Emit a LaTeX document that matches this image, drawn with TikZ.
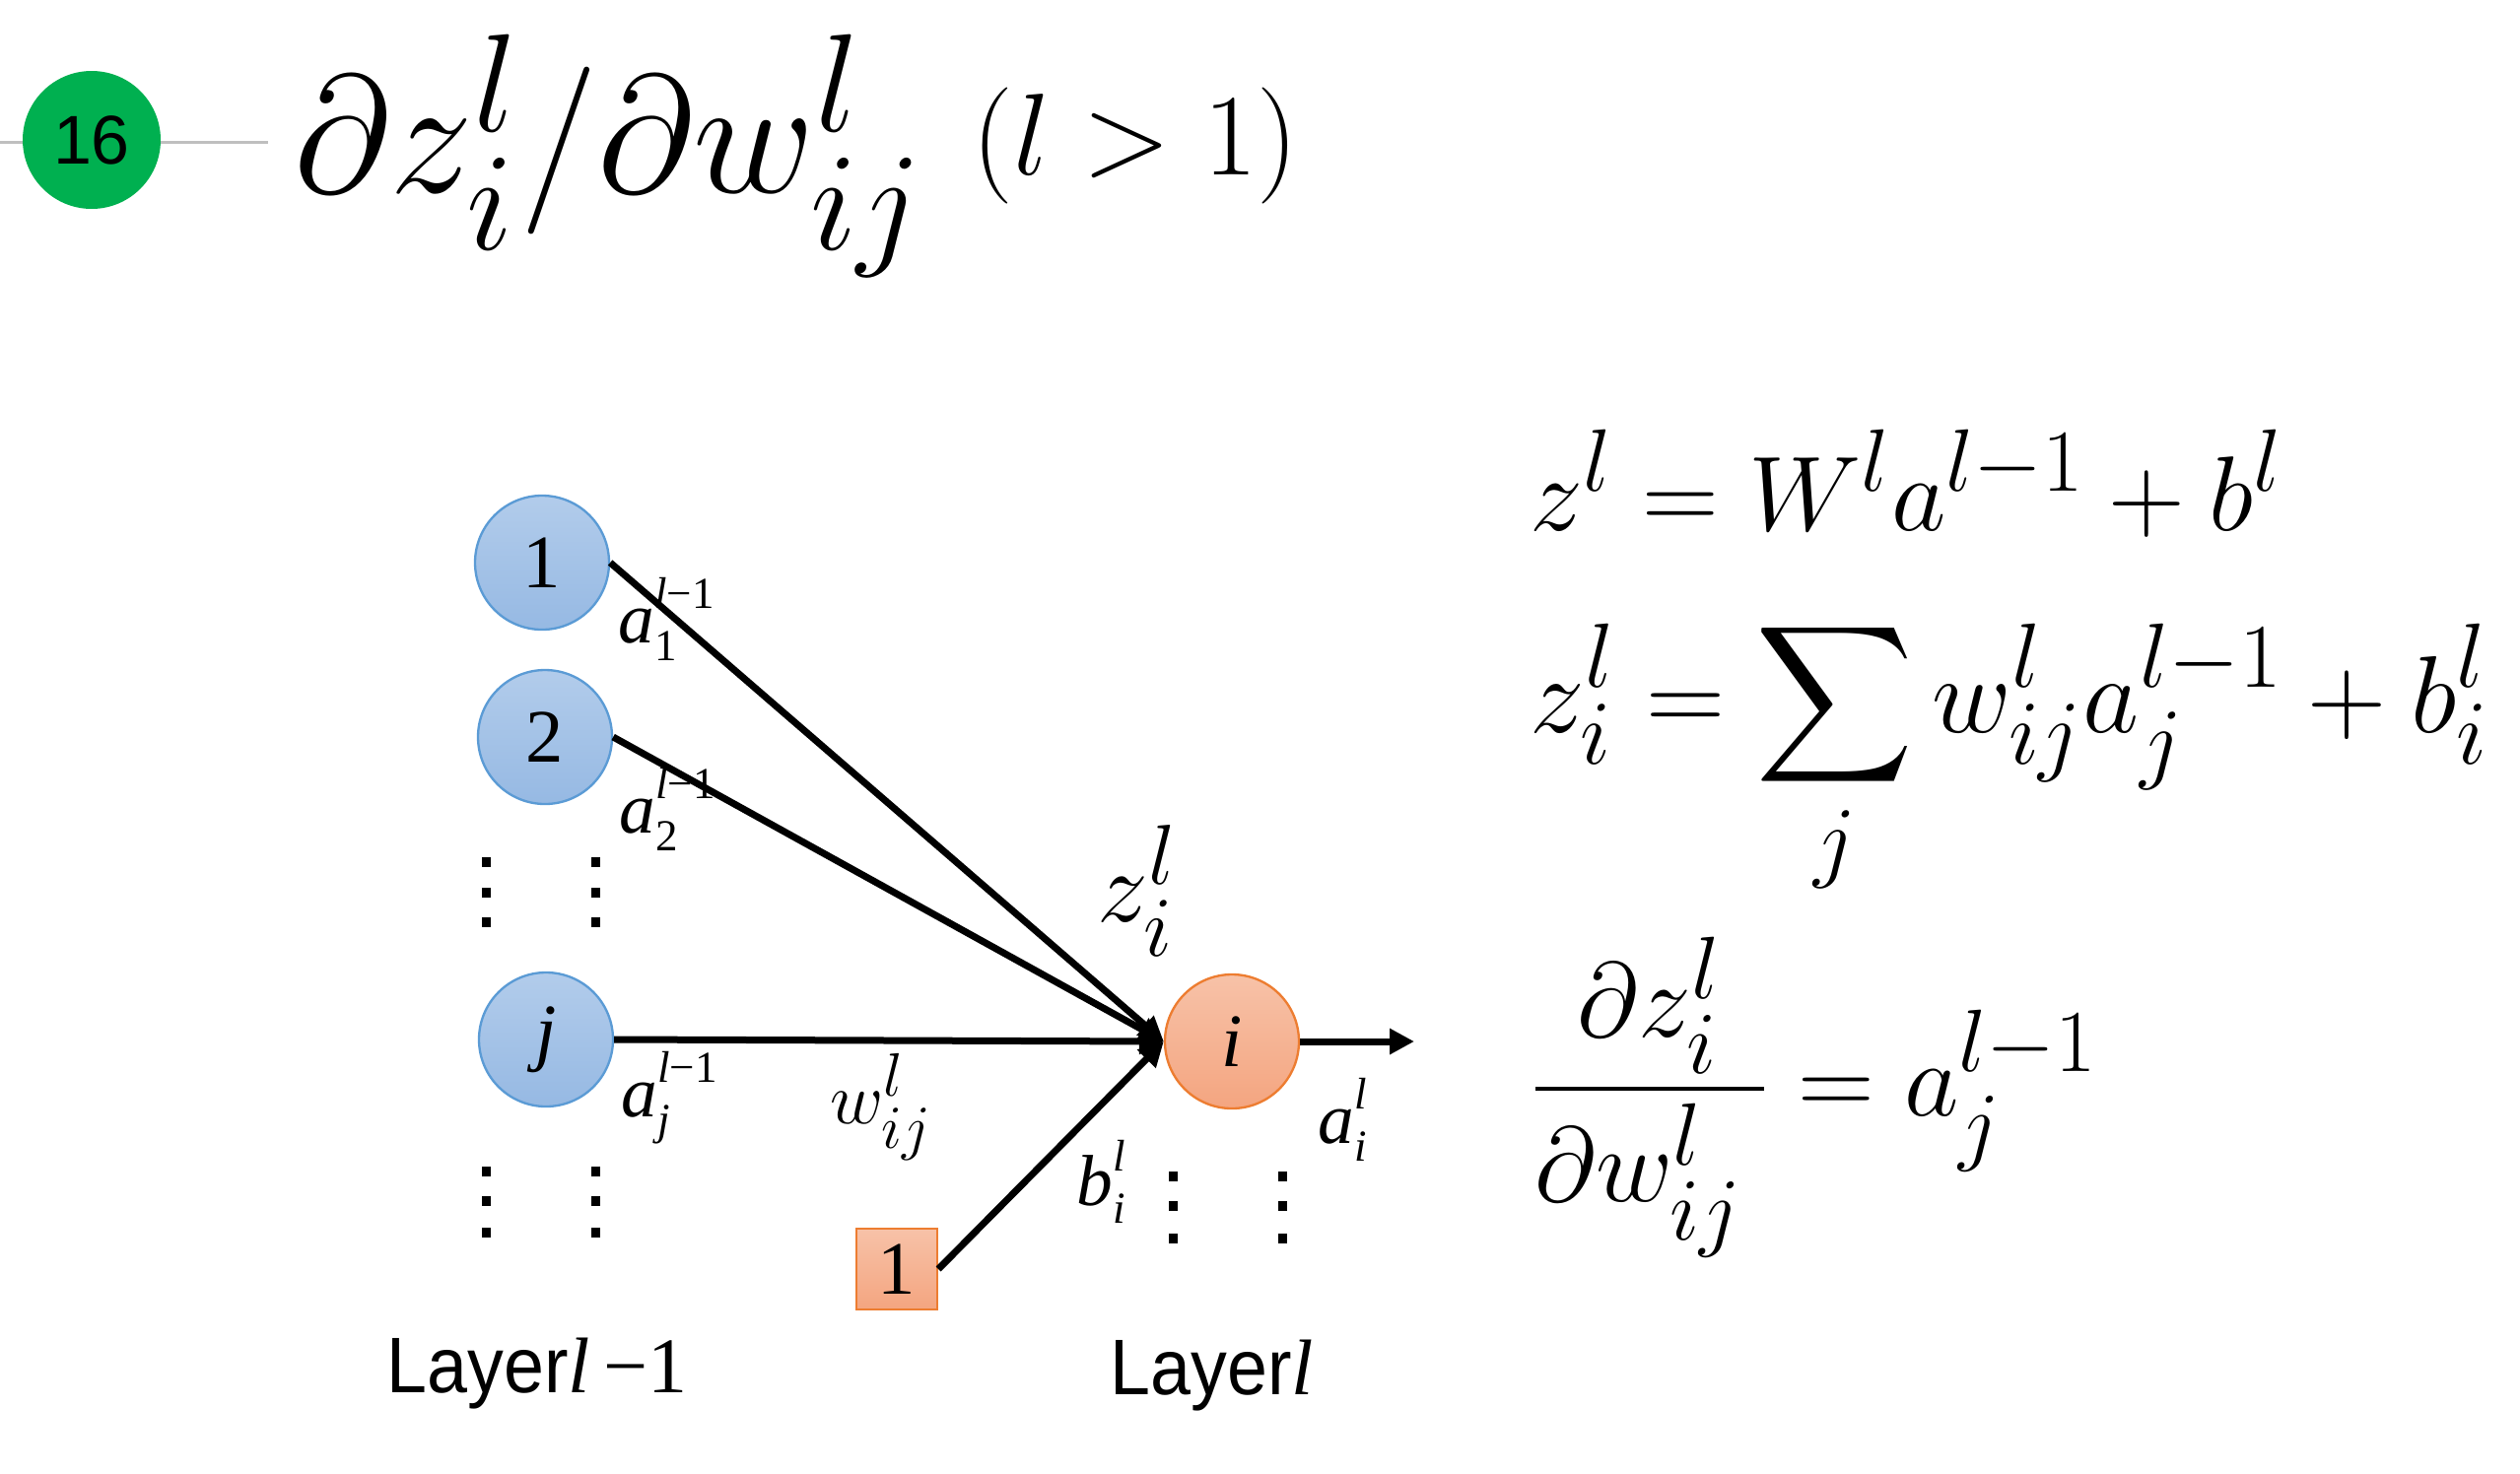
\documentclass[tikz,border=0pt]{standalone}
\usepackage{exscale}
\usepackage{fontspec}
\usepackage{graphicx}
\usetikzlibrary{arrows.meta,shadings}
\newfontfamily\tms{Liberation Serif}
\newfontfamily\arl{Liberation Sans}
\definecolor{bluetop}{RGB}{178,204,235}
\definecolor{bluebot}{RGB}{150,185,227}
\definecolor{blueedge}{RGB}{91,155,213}
\definecolor{orgtop}{RGB}{247,194,168}
\definecolor{orgbot}{RGB}{244,165,128}
\definecolor{orgedge}{RGB}{237,125,49}
\definecolor{badgegreen}{RGB}{0,176,80}
\definecolor{rulegray}{RGB}{191,191,191}
\newcommand\tlab[3]{{\tms\fontsize{22}{22}\selectfont\itshape #1\rlap{\raisebox{-5.4pt}{\fontsize{13.5}{13.5}\selectfont #2}}\raisebox{10.5pt}{\fontsize{13.5}{13.5}\selectfont #3}}}
\newcommand\layerword{\scalebox{0.92}[1]{Layer}}
\begin{document}
\begin{tikzpicture}[x=0.3pt,y=-0.3pt,
  bnode/.style={circle,minimum size=40.8pt,inner sep=0pt,draw=blueedge,line width=0.7pt,top color=bluetop,bottom color=bluebot,font=\tms\fontsize{23}{23}\selectfont},
  onode/.style={circle,minimum size=40.8pt,inner sep=0pt,draw=orgedge,line width=0.7pt,top color=orgtop,bottom color=orgbot,font=\tms\fontsize{23}{23}\selectfont},
  obox/.style={rectangle,minimum size=24.6pt,inner sep=0pt,draw=orgedge,line width=0.7pt,top color=orgtop,bottom color=orgbot,font=\tms\fontsize{23}{23}\selectfont},
  lab/.style={anchor=base west,inner sep=0pt},
  conn/.style={line width=2.1pt,-{Triangle[length=7.5pt,width=7.5pt]}},
  layerlab/.style={anchor=base west,inner sep=0pt,font=\arl\fontsize{24}{24}\selectfont}]
\useasboundingbox (0,0) rectangle (2557,1495);
% header
\coordinate (r0) at (0,144);
\coordinate (r1) at (272,144);
\draw[rulegray,line width=0.9pt] (r0) -- (r1);
\node[circle,fill=badgegreen,minimum size=42pt,inner sep=0pt,font=\arl\fontsize{21}{21}\selectfont] (badge) at (93,142) {16};
\node[lab] (title) at (298,195) {\scalebox{2.05}{\Huge$\partial z_i^l/\partial w_{ij}^l$}};
\node[lab] (cond) at (986,177) {\scalebox{2.05}{\LARGE$(l>1)$}};
% equations
\node[lab] (eq1) at (1552,538) {\scalebox{1.30}{\Huge$z^l = W^l a^{l-1} + b^l$}};
\node[lab] (eq2) at (1552,743) {\scalebox{1.34}{\Huge$\displaystyle z_i^l = \sum_j w_{ij}^l a_j^{l-1} + b_i^l$}};
\node[lab] (eq3) at (1552,1132) {\scalebox{1.30}{\Huge$\displaystyle \frac{\partial z_i^l}{\partial w_{ij}^l\mkern3.5mu} = a_j^{l-1}$}};
% labels
\node[lab] (la1) at (627,652) {\tlab{a}{\upshape 1}{l\upshape −1}};
\node[lab] (la2) at (628,845) {\tlab{a}{\upshape 2}{l\upshape −1}};
\node[lab] (laj) at (630,1133) {\tlab{a}{j}{l\upshape −1}};
\node[lab] (lb) at (1092,1223) {\tlab{b}{i}{l}};
\node[lab] (lai) at (1337,1160) {\tlab{a}{i}{l}};
\node[lab] (lz) at (1113,935) {\scalebox{1.25}{\Huge$z_i^l$}};
\node[lab] (lw) at (842,1140) {\scalebox{0.9}{\Huge$w_{ij}^l$}};
% nodes
\node[bnode] (n1) at (550,571) {1};
\node[bnode] (n2) at (553,748) {2};
\node[bnode] (nj) at (554,1055) {\itshape j};
\node[onode] (ni) at (1250,1057) {\itshape i};
\node[obox] (nb) at (910,1288) {1};
\coordinate (out) at (1435,1057);
% dots
\foreach \x/\y in {493/875,493/906,493/936,604/875,604/906,604/936,
                   493/1189,493/1219,493/1251,604/1189,604/1219,604/1251,
                   1190/1194,1190/1224,1190/1257,1301/1194,1301/1224,1301/1257}
  \fill ({\x-4.5},{\y-5}) rectangle ({\x+4.5},{\y+5});
% connectors
\draw[conn] (n1.east) -- (ni.west);
\draw[conn] (n2.east) -- (ni.west);
\draw[conn] (nj.east) -- (ni.west);
\draw[conn] (nb.east) -- (ni.west);
\draw[conn] (ni.east) -- (out);
% layer labels
\node[layerlab] (L1) at (392,1413) {\layerword{\tms\itshape l}\hspace{4pt}{\tms −1}};
\node[layerlab] (L2) at (1126,1415) {\layerword{\tms\itshape l}};
\end{tikzpicture}
\end{document}
